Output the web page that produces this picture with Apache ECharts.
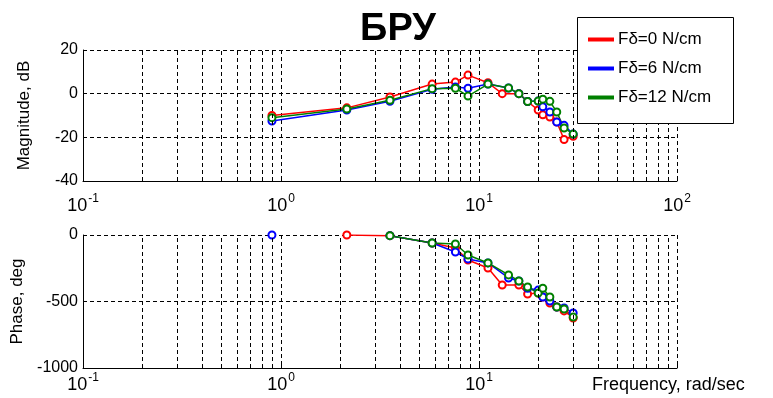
<!DOCTYPE html>
<html>
<head>
<meta charset="utf-8">
<script src="https://cdn.jsdelivr.net/npm/echarts@6/dist/echarts.min.js"></script>
<style>html,body{margin:0;padding:0;background:#fff}#c{width:773px;height:398px}</style>
</head>
<body>
<div id="c"></div>
<script>
// ---- data ----
const seriesNames = ['F\u03b4=0 N/cm', 'F\u03b4=6 N/cm', 'F\u03b4=12 N/cm'];
const freqRed   = [0.9, 2.15, 3.55, 5.8, 7.6, 8.8, 11.1, 13.1, 15.9, 17.6, 19.9, 21, 22.8, 24.7, 26.9, 29.9];
const freqBlue  = [0.9, 2.15, 3.55, 5.8, 7.6, 8.8, 11.1, 14.1, 15.9, 17.6, 19.9, 21, 22.8, 24.7, 26.9, 29.9];
const freqGreen = [0.9, 2.15, 3.55, 5.8, 7.6, 8.8, 11.1, 14.1, 15.9, 17.6, 19.9, 21, 22.8, 24.7, 26.9, 29.9];
const magRed   = [-10, -6.5, -1.5, 4.4, 5.3, 8.5, 5, 0, 0, -3.6, -7.5, -9.7, -10.7, -13, -21, -19.5];
const magBlue  = [-12.5, -7.5, -3.5, 2, 3, 2.5, 4.4, 2.6, 0, -3.6, -3.4, -6, -8.4, -13, -14.5, -18.5];
const magGreen = [-11, -7, -3, 2.3, 2.5, -1.1, 4.4, 2.6, 0, -3.6, -3.4, -2.5, -3.5, -8.4, -15.7, -18.5];
const phaseRed   = [null, 0, -5, -60, -98, -188, -248, -376, -376, -444, -436, -466, -511, -541, -571, -624];
const phaseBlue  = [0, null, -5, -60, -128, -180, -210, -323, -346, -400, -414, -466, -496, -541, -548, -586];
const phaseGreen = [null, null, -5, -60, -68, -150, -210, -300, -346, -391, -436, -400, -466, -541, -556, -617];
const magTicks = [-40, -20, 0, 20];
const phaseTicks = [-1000, -500, 0];
const minorFreqs = [0.2,0.3,0.4,0.5,0.6,0.7,0.8,0.9,2,3,4,5,6,7,8,9,20,30,40,50,60,70,80,90];

const colors = ['#ff0000', '#0000ff', '#008000'];
const FONT = 'Liberation Sans, Arial, sans-serif';

function pairs(f, v) { return f.map((x, i) => [x, v[i]]); }

function xLabel(hide100) {
  return function (v) {
    const e = Math.round(Math.log10(v));
    if (hide100 && e === 2) return '';
    return '{b|10}{s|' + e + '}';
  };
}
const richX = {
  b: { fontSize: 18, fontFamily: FONT, color: '#000', verticalAlign: 'bottom', lineHeight: 22 },
  s: { fontSize: 12, fontFamily: FONT, color: '#000', verticalAlign: 'top', lineHeight: 22, padding: [0, 0, 0, 1] }
};

const dashStyle = { color: '#000', type: [4, 3], width: 1 };

function xAxis(gi, hide100, margin) {
  return {
    type: 'log', logBase: 10, min: 0.1, max: 100, gridIndex: gi,
    axisLine: { show: true, onZero: false, lineStyle: { color: '#000', width: 1 } },
    axisTick: { show: true, inside: true, length: 4, lineStyle: { color: '#000' } },
    axisLabel: { formatter: xLabel(hide100), rich: richX, margin: margin, showMinLabel: true, showMaxLabel: true },
    splitLine: { show: true, lineStyle: dashStyle },
    minorTick: { show: false }
  };
}
function yAxis(gi, min, max, interval, name, gap) {
  return {
    type: 'value', min: min, max: max, interval: interval, gridIndex: gi,
    name: name, nameLocation: 'middle', nameGap: gap, nameRotate: 90,
    nameTextStyle: { fontSize: 17, fontFamily: FONT, color: '#000' },
    axisLine: { show: true, lineStyle: { color: '#000', width: 1 } },
    axisTick: { show: true, inside: true, length: 4, lineStyle: { color: '#000' } },
    axisLabel: { fontSize: 16, fontFamily: FONT, color: '#000', margin: 5, formatter: v => String(v) },
    splitLine: { show: true, lineStyle: dashStyle }
  };
}

function gridHelper(xi, yi) {
  return {
    type: 'line', name: '_grid' + xi, xAxisIndex: xi, yAxisIndex: yi, data: [], z: 1,
    silent: true,
    markLine: {
      silent: true, symbol: 'none', label: { show: false },
      lineStyle: dashStyle, animation: false,
      data: minorFreqs.map(f => ({ xAxis: f }))
    }
  };
}

function dataSeries(xi, yi, name, f, v, color, z) {
  return {
    type: 'line', name: name, xAxisIndex: xi, yAxisIndex: yi,
    data: pairs(f, v), connectNulls: false,
    symbol: 'emptyCircle', symbolSize: 7, showSymbol: true,
    lineStyle: { color: color, width: 1.5 },
    itemStyle: { color: color, borderColor: color, borderWidth: 1.2 },
    z: z, animation: false
  };
}

const chart = echarts.init(document.getElementById('c'), null, { renderer: 'canvas' });
chart.setOption({
  backgroundColor: '#fff',
  animation: false,
  title: {
    text: '\u0411\u0420\u0423', left: 393, top: 6, textAlign: 'center',
    textStyle: { fontSize: 38, fontWeight: 'bold', fontFamily: FONT, color: '#000' }
  },
  legend: {
    data: seriesNames,
    orient: 'vertical', left: 577, top: 17,
    padding: [14, 0, 9, 11], itemGap: 12,
    itemWidth: 24, itemHeight: 2, icon: 'rect',
    textStyle: { fontSize: 17, fontFamily: FONT, color: '#000' },
    z: 10
  },
  grid: [
    { left: 83, right: 96, top: 50, height: 131 },
    { left: 83, right: 96, top: 235, height: 133 }
  ],
  xAxis: [xAxis(0, false, 12), xAxis(1, true, 4)],
  yAxis: [
    yAxis(0, -40, 20, 20, 'Magnitude, dB', 50),
    yAxis(1, -1000, 0, 500, 'Phase, deg', 50)
  ],
  graphic: [
    {
      type: 'rect', left: 577, top: 17, z: 8,
      shape: { width: 156, height: 106 },
      style: { fill: '#fff', stroke: '#000', lineWidth: 1 }
    },
    {
      type: 'text', left: 592, top: 376, z: 8,
      style: { text: 'Frequency, rad/sec', font: '18px ' + FONT, fill: '#000' }
    }
  ],
  series: [
    gridHelper(0, 0), gridHelper(1, 1),
    dataSeries(0, 0, seriesNames[0], freqRed, magRed, colors[0], 3),
    dataSeries(0, 0, seriesNames[1], freqBlue, magBlue, colors[1], 3),
    dataSeries(0, 0, seriesNames[2], freqGreen, magGreen, colors[2], 3),
    dataSeries(1, 1, seriesNames[0], freqRed, phaseRed, colors[0], 3),
    dataSeries(1, 1, seriesNames[1], freqBlue, phaseBlue, colors[1], 3),
    dataSeries(1, 1, seriesNames[2], freqGreen, phaseGreen, colors[2], 3)
  ]
});
</script>
</body>
</html>
